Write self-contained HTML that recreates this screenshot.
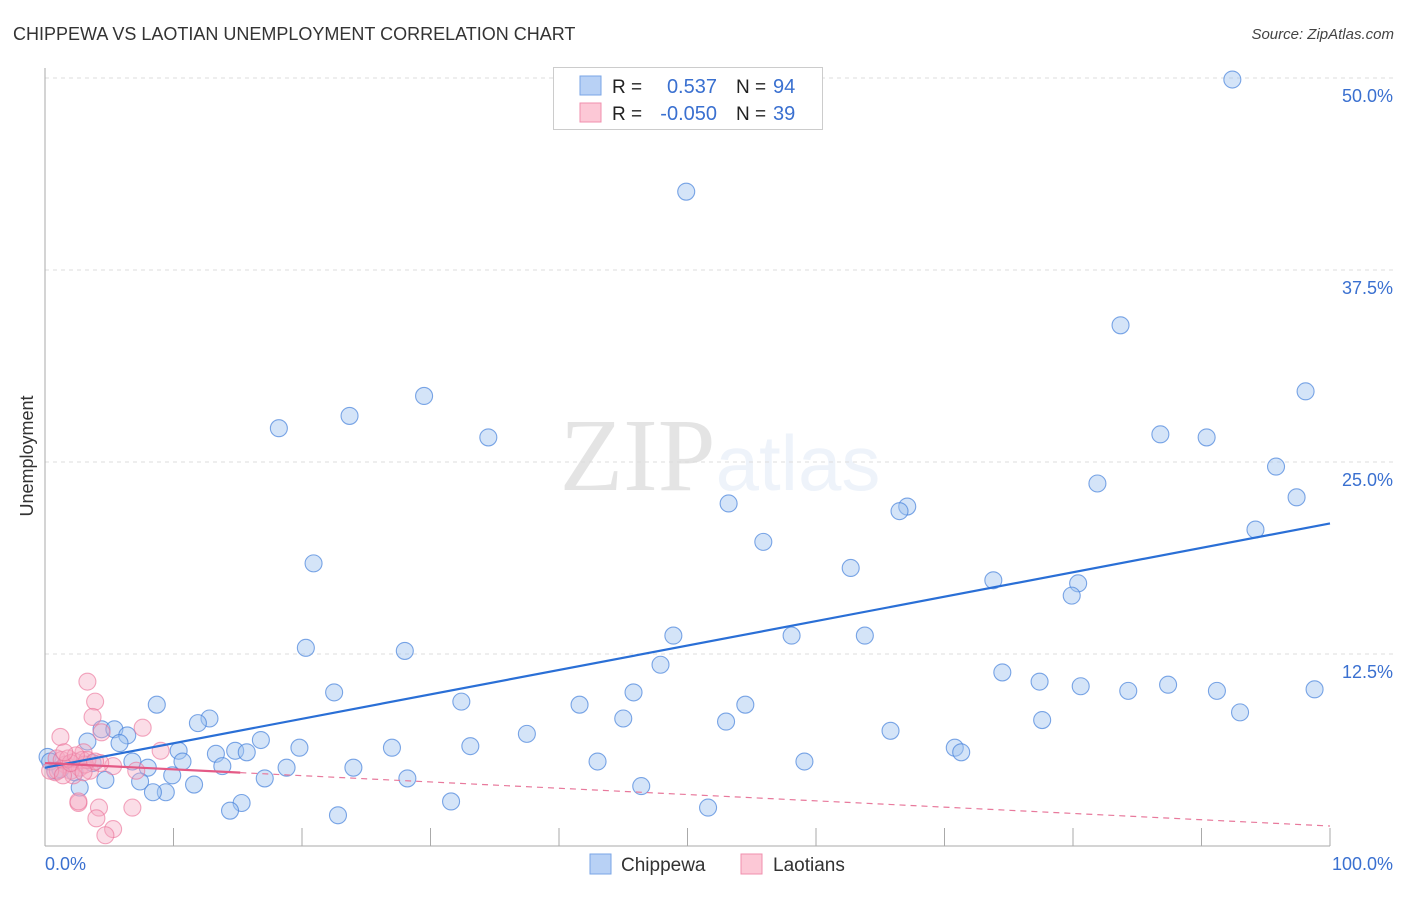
<!DOCTYPE html>
<html><head><meta charset="utf-8"><style>
body{margin:0;background:#fff;width:1406px;height:892px;overflow:hidden;font-family:"Liberation Sans",sans-serif}
</style></head><body>
<svg id="chart" width="1406" height="892" xmlns="http://www.w3.org/2000/svg" font-family="Liberation Sans, sans-serif">
<text x="13" y="40" font-size="18" fill="#333">CHIPPEWA VS LAOTIAN UNEMPLOYMENT CORRELATION CHART</text>
<text x="1394" y="39" font-size="15" fill="#444" font-style="italic" text-anchor="end">Source: ZipAtlas.com</text>
<text x="720" y="490" font-size="104" text-anchor="middle" fill="#000" opacity="0.1"><tspan font-family="Liberation Serif, serif">ZIP</tspan><tspan fill="#4a7fd0" opacity="0.9" font-size="78">atlas</tspan></text>
<g id="grid"></g>
<g id="axes"></g>
<g id="marks"></g>
<text transform="translate(33,456) rotate(-90)" font-size="18" fill="#333" text-anchor="middle">Unemployment</text>
<g>
<rect x="553.5" y="67.5" width="269" height="62" fill="#fff" stroke="#ccc"/>
<rect x="580" y="76" width="21" height="19" fill="#b8d1f5" stroke="#7aa5e6"/>
<rect x="580" y="103" width="21" height="19" fill="#fcc8d6" stroke="#f08fae"/>
<text x="612" y="93" font-size="19" fill="#222">R =</text>
<text x="717" y="93" font-size="20" fill="#3a70d0" text-anchor="end">0.537</text>
<text x="736" y="93" font-size="19" fill="#222">N =</text>
<text x="773" y="93" font-size="20" fill="#3a70d0">94</text>
<text x="612" y="120" font-size="19" fill="#222">R =</text>
<text x="717" y="120" font-size="20" fill="#3a70d0" text-anchor="end">-0.050</text>
<text x="736" y="120" font-size="19" fill="#222">N =</text>
<text x="773" y="120" font-size="20" fill="#3a70d0">39</text>
</g>
<g>
<rect x="590" y="854" width="21" height="20" fill="#b8d1f5" stroke="#7aa5e6"/>
<text x="621" y="871" font-size="19" fill="#333">Chippewa</text>
</g>
<g>
<rect x="741" y="854" width="21" height="20" fill="#fcc8d6" stroke="#f08fae"/>
<text x="773" y="871" font-size="19" fill="#333">Laotians</text>
</g>
</svg>
<script>
const yTicks=[12.5,25,37.5,50];
const yTickLabels=["12.5%","25.0%","37.5%","50.0%"];
const xTicks=[0,10,20,30,40,50,60,70,80,90,100];
const chippewaX=[92.4,49.9,83.7,98.1,29.5,23.7,18.2,34.5,86.8,90.4,95.8,81.9,97.4,53.2,67.1,66.5,94.2,55.9,20.9,62.7,73.8,80.4,79.9,48.9,58.1,63.8,20.3,28.0,47.9,74.5,77.4,80.6,84.3,87.4,91.2,98.8,22.5,45.8,32.4,41.6,54.5,93.0,8.7,12.8,45.0,53.0,77.6,11.9,65.8,37.5,16.8,4.4,5.4,6.4,3.3,5.8,27.0,33.1,19.8,70.8,71.3,10.4,14.8,13.3,15.7,0.2,10.7,6.8,3.7,43.0,59.1,13.8,24.0,18.8,8.0,9.9,0.8,2.3,1.2,17.1,28.2,4.7,7.4,11.6,2.7,46.4,9.4,8.4,15.3,14.4,31.6,51.6,22.8,0.4];
const chippewaY=[49.9,42.6,33.9,29.6,29.3,28.0,27.2,26.6,26.8,26.6,24.7,23.6,22.7,22.3,22.1,21.8,20.6,19.8,18.4,18.1,17.3,17.1,16.3,13.7,13.7,13.7,12.9,12.7,11.8,11.3,10.7,10.4,10.1,10.5,10.1,10.2,10.0,10.0,9.4,9.2,9.2,8.7,9.2,8.3,8.3,8.1,8.2,8.0,7.5,7.3,6.9,7.6,7.6,7.2,6.8,6.7,6.4,6.5,6.4,6.4,6.1,6.2,6.2,6.0,6.1,5.8,5.5,5.5,5.4,5.5,5.5,5.2,5.1,5.1,5.1,4.6,4.9,4.8,5.0,4.4,4.4,4.3,4.2,4.0,3.8,3.9,3.5,3.5,2.8,2.3,2.9,2.5,2.0,5.5];
const laoX=[3.3,3.9,3.7,7.6,1.2,4.4,9.0,3.0,0.9,5.3,7.1,2.3,1.6,2.0,2.7,3.5,4.3,0.8,2.6,2.6,4.2,4.0,5.3,4.7,6.8,2.9,1.3,1.8,3.1,2.2,1.0,0.4,3.3,3.9,1.4,2.0,2.4,1.5,3.0];
const laoY=[10.7,9.4,8.4,7.7,7.1,7.4,6.2,6.1,5.7,5.2,4.9,5.5,5.3,4.9,5.1,4.9,5.4,4.8,2.8,2.9,2.5,1.8,1.1,0.7,2.5,5.6,5.6,5.7,5.3,4.6,4.9,4.9,5.6,5.5,4.6,5.4,5.9,6.1,4.8];
const chipTrend=[5.1,21.0];
const laoTrend=[5.4,1.3];
const laoSolidEnd=15.2;

const NS="http://www.w3.org/2000/svg";
const X0=45,X1=1330,Y0=846,PX_PER=192/12.5;
const sx=v=>X0+(X1-X0)*v/100;
const sy=v=>Y0-v*PX_PER;
function mk(tag,attrs,parent){const e=document.createElementNS(NS,tag);for(const k in attrs)e.setAttribute(k,attrs[k]);parent.appendChild(e);return e;}
const grid=document.getElementById('grid'),axes=document.getElementById('axes'),marks=document.getElementById('marks');
yTicks.forEach((t,i)=>{
 const l=mk('line',{x1:X0,x2:1393,y1:sy(t),y2:sy(t),stroke:'#ddd','stroke-dasharray':'4,4'},grid);
 
 
 const tx=mk('text',{x:1393,y:sy(t)+24,'font-size':18,fill:'#3a70d0','text-anchor':'end'},axes);
 tx.textContent=yTickLabels[i];
 
 
});
const ya=mk('line',{x1:X0,x2:X0,y1:68,y2:Y0,stroke:'#aaa'},axes);


const xa=mk('line',{x1:X0,x2:X1,y1:Y0,y2:Y0,stroke:'#aaa'},axes);


xTicks.forEach(t=>{
 const l=mk('line',{x1:sx(t),x2:sx(t),y1:828,y2:Y0,stroke:'#aaa'},axes);
 
 
});
const xl0=mk('text',{x:X0,y:870,'font-size':18,fill:'#3a70d0'},axes);xl0.textContent='0.0%';


const xl1=mk('text',{x:1393,y:870,'font-size':18,fill:'#3a70d0','text-anchor':'end'},axes);xl1.textContent='100.0%';


chippewaX.forEach((x,i)=>{
 const c=mk('circle',{cx:sx(x),cy:sy(chippewaY[i]),r:8.5,fill:'rgba(160,195,240,0.45)',stroke:'rgba(70,130,220,0.7)','stroke-width':1.1},marks);
 
 
});
laoX.forEach((x,i)=>{
 const c=mk('circle',{cx:sx(x),cy:sy(laoY[i]),r:8.5,fill:'rgba(245,170,195,0.4)',stroke:'rgba(235,110,150,0.6)','stroke-width':1.1},marks);
 
 
});
const bt=mk('line',{x1:sx(0),y1:sy(chipTrend[0]),x2:sx(100),y2:sy(chipTrend[1]),stroke:'#2a6fd6','stroke-width':2.2},marks);


const lv=t=>laoTrend[0]+(laoTrend[1]-laoTrend[0])*t/100;
const pd=mk('line',{x1:sx(laoSolidEnd),y1:sy(lv(laoSolidEnd)),x2:sx(100),y2:sy(laoTrend[1]),stroke:'#e8799c','stroke-width':1.2,'stroke-dasharray':'6,5'},marks);


const ps=mk('line',{x1:sx(0),y1:sy(laoTrend[0]),x2:sx(laoSolidEnd),y2:sy(lv(laoSolidEnd)),stroke:'#e45a86','stroke-width':2.2},marks);


</script>
</body></html>
